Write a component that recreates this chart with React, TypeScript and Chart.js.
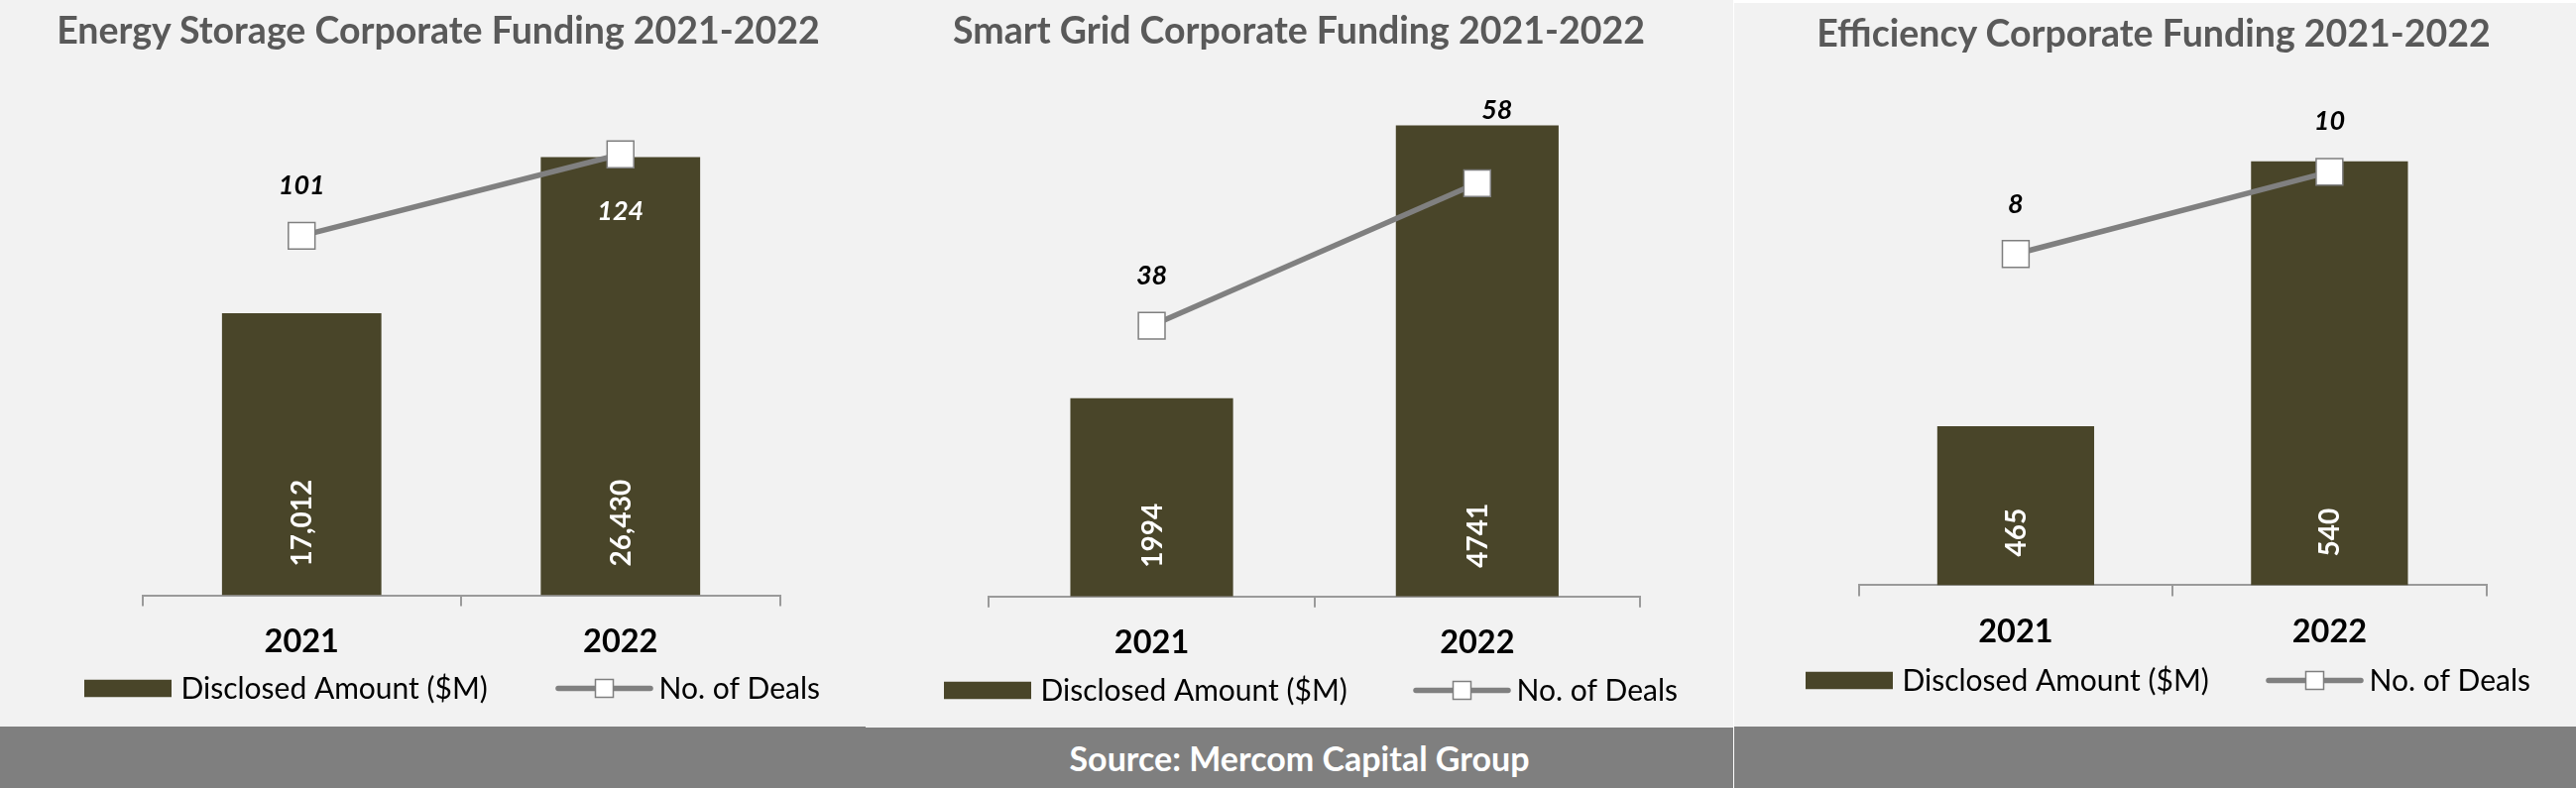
import { useEffect, useRef } from "react";
import Chart from "chart.js/auto";

// ---- data ----
const years = ["2021", "2022"];

const storageAmount = [17012, 26430];
const storageDeals = [101, 124];

const gridAmount = [1994, 4741];
const gridDeals = [38, 58];

const efficiencyAmount = [465, 540];
const efficiencyDeals = [8, 10];

const amountLabel = "Disclosed Amount ($M)";
const dealsLabel = "No. of Deals";
const sourceText = "Source: Mercom Capital Group";

const BAR = "#494529";
const LINE = "#808080";
const AXIS = "#9a9a9a";
const FONT = "Lato, 'Open Sans', sans-serif";

type Panel = {
    title: string;
    amounts: number[];
    deals: number[];
    comma: boolean;
    left: number;
    top: number;
    width: number;
    height: number;
    titleX: number;
    titleTop: number;
    pad: { left: number; right: number; top: number; bottom: number };
    barScale: { min: number; max: number };
    dealScale: { min: number; max: number };
    dealOffsets: { dx: number; dy: number; color: string }[];
    legend: { rectX: number; lineX: number; y: number };
};

const panels: Panel[] = [
    {
        title: "Energy Storage Corporate Funding 2021-2022",
        amounts: storageAmount,
        deals: storageDeals,
        comma: true,
        left: 0, top: 0, width: 873, height: 733,
        titleX: 442, titleTop: 11,
        pad: { left: 143.5, right: 86.5, top: 100, bottom: 49.4 },
        barScale: { min: 0, max: 29922 },
        dealScale: { min: -0.5, max: 139.6 },
        dealOffsets: [
            { dx: 0, dy: -42, color: "#000" },
            { dx: 0, dy: 66, color: "#fff" },
        ],
        legend: { rectX: 85, lineX: 563, y: 694.5 },
    },
    {
        title: "Smart Grid Corporate Funding 2021-2022",
        amounts: gridAmount,
        deals: gridDeals,
        comma: false,
        left: 873, top: 0, width: 875, height: 734,
        titleX: 437, titleTop: 11,
        pad: { left: 124.4, right: 94, top: 100, bottom: 49.3 },
        barScale: { min: 0, max: 5005 },
        dealScale: { min: 0, max: 69.8 },
        dealOffsets: [
            { dx: 0, dy: -42, color: "#000" },
            { dx: 20, dy: -65, color: "#000" },
        ],
        legend: { rectX: 79, lineX: 555, y: 696.5 },
    },
    {
        title: "Efficiency Corporate Funding 2021-2022",
        amounts: efficiencyAmount,
        deals: efficiencyDeals,
        comma: false,
        left: 1749, top: 3, width: 849, height: 730,
        titleX: 423, titleTop: 11,
        pad: { left: 125.7, right: 90.4, top: 100, bottom: 59.6 },
        barScale: { min: 420, max: 556.8 },
        dealScale: { min: -0.07, max: 11.7 },
        dealOffsets: [
            { dx: 0, dy: -41, color: "#000" },
            { dx: 0, dy: -42, color: "#000" },
        ],
        legend: { rectX: 72, lineX: 539, y: 683.5 },
    },
];

const labelsPlugin = {
    id: "valueLabels",
    afterDatasetsDraw(chart: any, _args: any, opts: any) {
        const ctx = chart.ctx;
        const barMeta = chart.getDatasetMeta(1);
        const lineMeta = chart.getDatasetMeta(0);
        ctx.save();
        // amounts, rotated inside the base of each bar
        ctx.fillStyle = "#fff";
        ctx.font = `bold 28px ${FONT}`;
        ctx.textAlign = "left";
        ctx.textBaseline = "middle";
        barMeta.data.forEach((bar: any, i: number) => {
            const v = chart.data.datasets[1].data[i];
            const txt = opts.comma ? v.toLocaleString("en-US") : String(v);
            ctx.save();
            ctx.translate(bar.x, bar.base - 29);
            ctx.rotate(-Math.PI / 2);
            ctx.fillText(txt, 0, 1);
            ctx.restore();
        });
        // deal counts
        ctx.font = `italic bold 27px ${FONT}`;
        ctx.textAlign = "center";
        ctx.textBaseline = "alphabetic";
        lineMeta.data.forEach((pt: any, i: number) => {
            const o = opts.offsets[i];
            ctx.fillStyle = o.color;
            ctx.fillText(String(chart.data.datasets[0].data[i]), pt.x + o.dx, pt.y + o.dy);
        });
        ctx.restore();
    },
};

const legendPlugin = {
    id: "comboLegend",
    afterDraw(chart: any, _args: any, opts: any) {
        const ctx = chart.ctx;
        const { rectX, lineX, y } = opts.pos;
        ctx.save();
        ctx.font = `30px ${FONT}`;
        ctx.textBaseline = "middle";
        ctx.textAlign = "left";

        ctx.fillStyle = BAR;
        ctx.fillRect(rectX, y - 8.75, 88, 17.5);
        ctx.fillStyle = "#000";
        ctx.fillText(chart.data.datasets[1].label, rectX + 97.5, y + 1);

        ctx.strokeStyle = LINE;
        ctx.lineWidth = 5.5;
        ctx.lineCap = "round";
        ctx.beginPath();
        ctx.moveTo(lineX, y);
        ctx.lineTo(lineX + 93, y);
        ctx.stroke();
        ctx.fillStyle = "#fff";
        ctx.fillRect(lineX + 37.5, y - 9, 18, 18);
        ctx.lineWidth = 1.5;
        ctx.strokeStyle = "#7f7f7f";
        ctx.strokeRect(lineX + 37.5, y - 9, 18, 18);
        ctx.fillStyle = "#000";
        ctx.fillText(chart.data.datasets[0].label, lineX + 101.5, y + 1);
        ctx.restore();
    },
};

function FundingChart({ p }: { p: Panel }) {
    const canvasRef: any = useRef(null);

    useEffect(() => {
        const chart = new Chart(canvasRef.current, {
            type: "bar",
            data: {
                labels: years,
                datasets: [
                    {
                        type: "line",
                        label: dealsLabel,
                        data: p.deals,
                        yAxisID: "y1",
                        order: 1,
                        borderColor: LINE,
                        borderWidth: 5.5,
                        pointStyle: "rect",
                        pointRadius: 19,
                        pointHoverRadius: 19,
                        pointBackgroundColor: "#fff",
                        pointBorderColor: "#7f7f7f",
                        pointBorderWidth: 1.5,
                        tension: 0,
                        clip: false,
                    } as any,
                    {
                        type: "bar",
                        label: amountLabel,
                        data: p.amounts,
                        yAxisID: "y",
                        order: 2,
                        base: p.barScale.min,
                        backgroundColor: BAR,
                        categoryPercentage: 1,
                        barPercentage: 0.5,
                    } as any,
                ],
            },
            options: {
                responsive: false,
                devicePixelRatio: 1,
                animation: false,
                layout: { padding: p.pad },
                plugins: {
                    legend: { display: false },
                    tooltip: { enabled: false },
                    valueLabels: { comma: p.comma, offsets: p.dealOffsets },
                    comboLegend: { pos: p.legend },
                } as any,
                scales: {
                    x: {
                        offset: true,
                        grid: {
                            offset: true,
                            drawOnChartArea: false,
                            drawTicks: true,
                            tickLength: 11,
                            color: AXIS,
                            lineWidth: 2,
                        },
                        border: { display: true, color: AXIS, width: 2 },
                        ticks: {
                            color: "#000",
                            padding: 16.5,
                            font: { family: FONT, weight: "bold", size: 32.5 },
                        },
                    },
                    y: { display: false, min: p.barScale.min, max: p.barScale.max },
                    y1: { display: false, min: p.dealScale.min, max: p.dealScale.max },
                },
            },
            plugins: [labelsPlugin, legendPlugin],
        });

        return () => {
            chart.destroy();
        };
    }, []);

    return (
        <div
            style={{
                position: "absolute",
                left: p.left,
                top: p.top,
                width: p.width,
                height: p.height,
                background: "#f2f2f2",
            }}
        >
            <canvas
                ref={canvasRef}
                width={p.width}
                height={p.height}
                style={{ position: "absolute", left: 0, top: 0 }}
            ></canvas>
            <div
                style={{
                    position: "absolute",
                    left: p.titleX - 500,
                    width: 1000,
                    top: p.titleTop,
                    textAlign: "center",
                    whiteSpace: "nowrap",
                    fontFamily: FONT,
                    fontWeight: "bold",
                    fontSize: 37.5,
                    lineHeight: "37px",
                    color: "#595959",
                }}
            >
                {p.title}
            </div>
        </div>
    );
}

export default function App() {
    const band = { position: "absolute" as const, background: "#7f7f7f" };
    return (
        <div
            style={{
                position: "absolute",
                left: 0,
                top: 0,
                width: 2598,
                height: 795,
                background: "#fff",
                overflow: "hidden",
            }}
        >
            {panels.map((p) => (
                <FundingChart key={p.title} p={p} />
            ))}
            <div style={{ ...band, left: 0, top: 733, width: 873, height: 62 }}></div>
            <div
                style={{
                    ...band,
                    left: 873,
                    top: 734,
                    width: 875,
                    height: 61,
                    color: "#fff",
                    fontFamily: FONT,
                    fontWeight: "bold",
                    fontSize: 34,
                    lineHeight: "61px",
                    textAlign: "center",
                }}
            >
                {sourceText}
            </div>
            <div style={{ ...band, left: 1749, top: 733, width: 849, height: 62 }}></div>
        </div>
    );
}
